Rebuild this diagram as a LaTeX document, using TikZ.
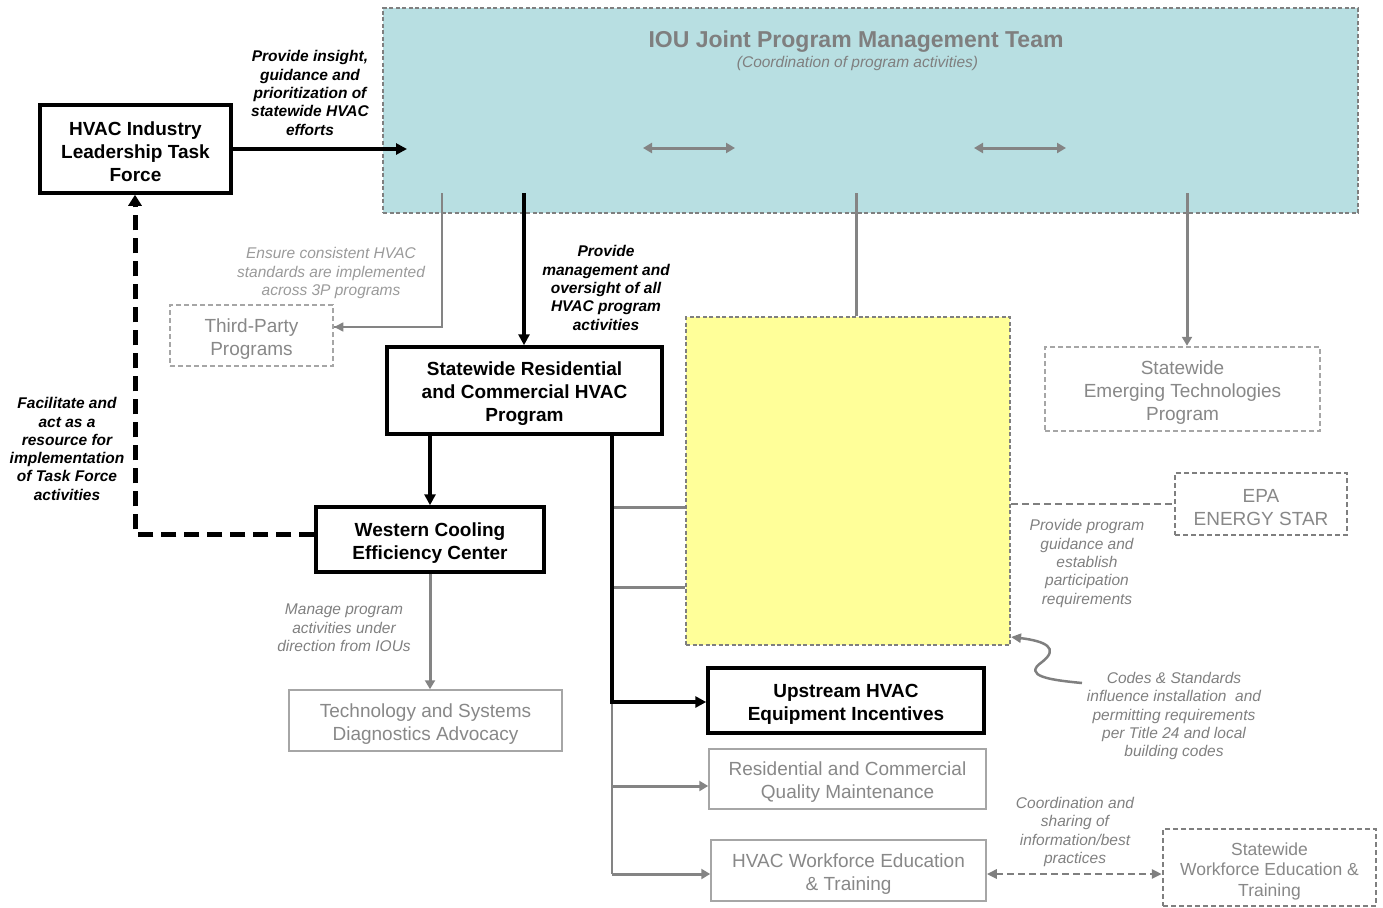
\documentclass[tikz,border=0pt]{standalone}
\usepackage{fontspec}
\setmainfont{Liberation Sans}
\usetikzlibrary{arrows.meta}
\definecolor{ioufill}{HTML}{B8DFE2}
\definecolor{noteyellow}{HTML}{FFFF99}
\definecolor{dashgray}{HTML}{7F7F7F}
\definecolor{boxgray}{HTML}{A6A6A6}
\definecolor{textgray}{HTML}{888888}
\definecolor{lighttext}{HTML}{9A9A9A}
\definecolor{labgray}{HTML}{808080}
\definecolor{linegray}{HTML}{848484}
% invisible strut that lowers box text slightly within its frame
\newcommand{\firstline}{\rule{0pt}{20pt}}
\begin{document}
\begin{tikzpicture}[x=1pt,y=-1pt,
  boxfont/.style={font=\fontsize{19}{23}\selectfont},
  blackbox/.style={draw=black, line width=3.5pt, fill=white, align=center, inner sep=0pt,
    font=\fontsize{19}{23}\selectfont\bfseries},
  graybox/.style={draw=boxgray, line width=1.5pt, fill=white, align=center, inner sep=0pt,
    text=textgray, boxfont},
  dashbox/.style={draw=dashgray, line width=2.5pt, dash pattern=on 5pt off 3pt, fill=white,
    align=center, inner sep=0pt, text=textgray, boxfont},
  blab/.style={align=center, inner sep=0pt, font=\fontsize{15.5}{18.3}\selectfont\bfseries\itshape},
  glab/.style={align=center, inner sep=0pt, text=labgray, font=\fontsize{15.5}{18.3}\selectfont\itshape},
  blackarrow/.style={draw=black, line width=3.5pt, -{Triangle[length=11pt,width=11pt]}},
  grayarrow/.style={draw=linegray, line width=3pt, -{Triangle[length=9pt,width=10pt]}},
  grayline/.style={draw=linegray, line width=3pt},
  thingray/.style={draw=linegray, line width=1.5pt},
]
\useasboundingbox (0,0) rectangle (1383,907);

% IOU management team
\node[draw=dashgray, line width=2pt, dash pattern=on 4pt off 2.5pt, fill=ioufill,
  minimum width=975pt, minimum height=205pt, inner sep=0pt] (iou) at (870.5,110.5) {};
\node[text=dashgray, font=\fontsize{23}{27}\selectfont\bfseries, inner sep=0pt] (ioutitle) at (856,42) {IOU Joint Program Management Team};
\node[text=dashgray, font=\fontsize{15.5}{18}\selectfont\itshape, inner sep=0pt] (iousub) at (857.5,63) {(Coordination of program activities)};

\coordinate (da1) at (643,148);
\coordinate (da2) at (735,148);
\coordinate (db1) at (974,148);
\coordinate (db2) at (1066,148);
\draw[draw=linegray, line width=3pt, {Triangle[length=9pt,width=10pt]}-{Triangle[length=9pt,width=10pt]}] (da1) -- (da2);
\draw[draw=linegray, line width=3pt, {Triangle[length=9pt,width=10pt]}-{Triangle[length=9pt,width=10pt]}] (db1) -- (db2);

% outgoing points on the bottom of the team box
\coordinate (iouA) at (442,193);
\coordinate (iouB) at (524,193);
\coordinate (iouC) at (856,193);
\coordinate (iouD) at (1187,193);
\coordinate (iouin) at (407,149);

% boxes
\node[blackbox, minimum width=191pt, minimum height=88pt] (task) at (135.5,149) {\firstline HVAC Industry\\Leadership Task\\Force};
\node[dashbox, draw=boxgray, minimum width=163pt, minimum height=61pt] (third) at (251.5,335.5) {\firstline Third-Party\\Programs};
\node[blackbox, minimum width=275pt, minimum height=87pt] (sres) at (524.5,390.5) {\firstline Statewide Residential\\and Commercial HVAC\\Program};
\node[blackbox, minimum width=228pt, minimum height=65pt] (wcec) at (430,539.5) {\firstline Western Cooling\\Efficiency Center};
\node[graybox, minimum width=273pt, minimum height=61pt] (tech) at (425.5,720.5) {\firstline Technology and Systems\\Diagnostics Advocacy};
\node[draw=dashgray, line width=2pt, dash pattern=on 4pt off 2.5pt, fill=noteyellow,
  minimum width=324pt, minimum height=328pt, inner sep=0pt] (yellow) at (848,481) {};
\node[dashbox, draw=boxgray, minimum width=275pt, minimum height=84pt] (set) at (1182.5,389) {\firstline Statewide\\Emerging Technologies\\Program};
\node[dashbox, minimum width=172pt, minimum height=62pt] (epa) at (1261,504) {\firstline EPA\\ENERGY STAR};
\node[blackbox, minimum width=276pt, minimum height=65pt] (up) at (846,700.5) {\firstline Upstream HVAC\\Equipment Incentives};
\node[graybox, minimum width=277pt, minimum height=60pt] (rqm) at (847.5,779) {\firstline Residential and Commercial\\Quality Maintenance};
\node[graybox, minimum width=275pt, minimum height=61pt] (wet) at (848.5,870.5) {\firstline HVAC Workforce Education\\\& Training};
\node[dashbox, minimum width=213pt, minimum height=77pt, font=\fontsize{17.5}{20.5}\selectfont] (swet) at (1269.5,867.5) {\firstline Statewide\\Workforce Education \&\\Training};

% labels
\node[blab] (l1) at (310,93) {Provide insight,\\guidance and\\prioritization of\\statewide HVAC\\efforts};
\node[glab, text=lighttext] (l2) at (331,273) {Ensure consistent HVAC\\standards are implemented\\across 3P programs};
\node[blab] (l3) at (606,288) {Provide\\management and\\oversight of all\\HVAC program\\activities};
\node[blab] (l4) at (67,449) {Facilitate and\\act as a\\resource for\\implementation\\of Task Force\\activities};
\node[glab] (l5) at (344,628) {Manage program\\activities under\\direction from IOUs};
\node[glab] (l6) at (1087,563.5) {Provide program\\guidance and\\establish\\participation\\requirements};
\node[glab] (l7) at (1174,716) {Codes \& Standards\\influence installation\ \ and\\permitting requirements\\per Title 24 and local\\building codes};
\node[glab] (l8) at (1075,832) {Coordination and\\sharing of\\information/best\\practices};

% connectors
\draw[blackarrow] (task.east) -- (iouin);
\coordinate (fac) at (135,534);
\draw[draw=black, line width=5pt, dash pattern=on 15pt off 8pt, -{Triangle[length=11pt,width=13pt]}]
  (fac -| wcec.west) -- (fac) -- (task.south -| fac);
\draw[thingray] (iouA) |- ([yshift=8.5pt]third.east);
\draw[thingray, -{Triangle[length=9pt,width=9pt]}] ([xshift=20pt,yshift=8.5pt]third.east) -- ([yshift=8.5pt]third.east);
\draw[blackarrow] (iouB) -- (iouB |- sres.north);
\draw[blackarrow] (wcec.north |- sres.south) -- (wcec.north);
\draw[grayarrow] (wcec.south) -- (wcec.south |- tech.north);

\coordinate (sp) at (612,702);
\coordinate (b1) at (612,507);
\coordinate (b2) at (612,587);
\coordinate (b3) at (612,786);
\coordinate (b4) at (612,874);
\draw[thingray] (sp) -- (b4);
\draw[grayline] (b1) -- (b1 -| yellow.west);
\draw[grayline] (b2) -- (b2 -| yellow.west);
\draw[grayarrow] (b3) -- (b3 -| rqm.west);
\draw[grayarrow] (b4) -- (b4 -| wet.west);
\draw[draw=black, line width=3.5pt, line join=miter, -{Triangle[length=11pt,width=11pt]}]
  (sp |- sres.south) -- (sp) -- (sp -| up.west);

\draw[grayline] (iouC) -- (iouC |- yellow.north);
\draw[grayarrow] (iouD) -- (iouD |- set.north);
\draw[draw=dashgray, line width=2.5pt, dash pattern=on 7pt off 4pt] (epa.west -| yellow.east) -- (epa.west);

\coordinate (cs) at (1082,683);
\coordinate (cstip) at (1011,637);
\draw[draw=dashgray, line width=2.5pt, -{Triangle[length=10pt,width=9pt]}]
  (cs) .. controls (1050,680) and (1022,676) .. (1042,662)
  .. controls (1060,648) and (1045,641) .. (cstip);

\draw[draw=dashgray, line width=2.5pt, dash pattern=on 7pt off 4pt,
  {Triangle[length=10pt,width=9pt]}-{Triangle[length=10pt,width=9pt]}]
  (b4 -| wet.east) -- (b4 -| swet.west);
\end{tikzpicture}
\end{document}
